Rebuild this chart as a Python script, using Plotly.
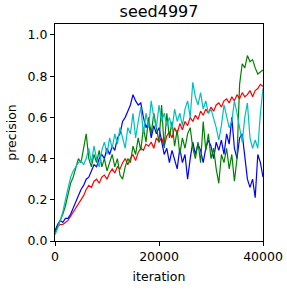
import plotly.graph_objects as go

iterations = list(range(0, 40001, 500))

red = [0.05,0.07,0.08,0.08,0.09,0.10,0.12,0.14,0.16,0.18,0.20,0.22,0.25,0.27,0.26,0.29,0.30,0.28,0.31,0.32,
       0.30,0.33,0.35,0.33,0.36,0.35,0.38,0.40,0.37,0.40,0.42,0.39,0.43,0.45,0.44,0.47,0.46,0.48,0.45,0.50,
       0.48,0.50,0.46,0.51,0.53,0.50,0.55,0.52,0.57,0.54,0.58,0.56,0.60,0.58,0.61,0.59,0.63,0.61,0.64,0.62,
       0.65,0.63,0.66,0.67,0.65,0.68,0.69,0.67,0.70,0.68,0.71,0.69,0.72,0.70,0.71,0.73,0.70,0.73,0.74,0.76,0.75]

blue = [0.05,0.08,0.10,0.09,0.11,0.11,0.13,0.16,0.19,0.22,0.25,0.27,0.30,0.31,0.34,0.37,0.36,0.40,0.42,0.40,
        0.45,0.42,0.46,0.44,0.50,0.52,0.58,0.60,0.63,0.66,0.71,0.68,0.66,0.67,0.60,0.55,0.58,0.50,0.56,0.52,
        0.55,0.48,0.42,0.45,0.38,0.44,0.40,0.35,0.45,0.38,0.42,0.30,0.40,0.48,0.42,0.47,0.44,0.38,0.45,0.49,
        0.46,0.40,0.48,0.44,0.49,0.42,0.52,0.47,0.60,0.45,0.40,0.50,0.52,0.42,0.30,0.26,0.30,0.21,0.42,0.38,0.31]

green = [0.04,0.07,0.10,0.13,0.17,0.22,0.28,0.31,0.35,0.40,0.38,0.45,0.52,0.40,0.36,0.42,0.38,0.44,0.36,0.40,
         0.34,0.38,0.42,0.36,0.40,0.32,0.30,0.36,0.40,0.38,0.46,0.42,0.50,0.44,0.55,0.48,0.60,0.52,0.62,0.55,
         0.48,0.66,0.45,0.62,0.50,0.58,0.46,0.54,0.42,0.50,0.45,0.52,0.55,0.45,0.40,0.48,0.38,0.58,0.44,0.52,
         0.40,0.45,0.35,0.28,0.42,0.38,0.45,0.35,0.42,0.29,0.40,0.76,0.86,0.84,0.90,0.87,0.88,0.84,0.81,0.82,0.83]

cyan = [0.03,0.06,0.10,0.14,0.20,0.26,0.31,0.34,0.36,0.38,0.39,0.37,0.40,0.45,0.38,0.46,0.40,0.36,0.44,0.48,
        0.42,0.50,0.45,0.52,0.47,0.55,0.50,0.45,0.55,0.52,0.62,0.50,0.58,0.65,0.52,0.62,0.55,0.68,0.60,0.55,
        0.66,0.58,0.62,0.56,0.60,0.54,0.64,0.58,0.62,0.56,0.64,0.68,0.60,0.77,0.70,0.66,0.72,0.64,0.68,0.62,
        0.64,0.60,0.55,0.49,0.56,0.66,0.60,0.55,0.58,0.68,0.62,0.55,0.48,0.60,0.67,0.50,0.45,0.49,0.45,0.62,0.74]

x_ticks = [0, 20000, 40000]
y_ticks = [0.0, 0.2, 0.4, 0.6, 0.8, 1.0]

colors = {"red": "#ff0000", "blue": "#0000ff", "green": "#008000", "cyan": "#00bfbf"}
data = {"red": red, "blue": blue, "green": green, "cyan": cyan}

fig = go.Figure()
for name in ["red", "blue", "green", "cyan"]:
    fig.add_trace(go.Scatter(x=iterations, y=data[name], mode="lines",
                             line=dict(color=colors[name], width=1.2), showlegend=False))

font = "DejaVu Sans"
axis_common = dict(showline=True, linecolor="black", linewidth=1, mirror=True,
                   ticks="outside", ticklen=4, tickcolor="black", showgrid=False, zeroline=False,
                   automargin=False,
                   tickfont=dict(family=font, size=12.5, color="black"))

fig.update_layout(
    width=287, height=290,
    margin=dict(l=55, r=24, t=24, b=49, autoexpand=False),
    paper_bgcolor="white", plot_bgcolor="white",
    title=dict(text="seed4997", x=0.5, xref="paper", xanchor="center",
               yref="container", y=(290 - 11) / 290, yanchor="middle",
               font=dict(family=font, size=16, color="black")),
    xaxis=dict(range=[0, 40000], tickvals=x_ticks, ticktext=[str(v) for v in x_ticks],
               title=dict(text="iteration", font=dict(family=font, size=12.5, color="black"), standoff=9),
               **axis_common),
    yaxis=dict(range=[0, 1.053], tickvals=y_ticks, ticktext=[f"{v:.1f}" for v in y_ticks],
               title=dict(text="precision", font=dict(family=font, size=12.5, color="black"), standoff=8),
               **axis_common),
)

fig.write_html("out.html", config={"displayModeBar": False},
               post_script="document.body.style.margin='0';")
